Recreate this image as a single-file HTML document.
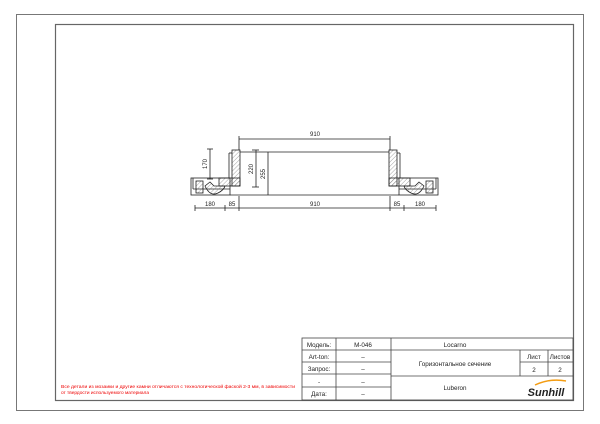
<!DOCTYPE html>
<html><head><meta charset="utf-8"><style>
body{margin:0;background:#fff}
svg{display:block}
text{font-family:"Liberation Sans",sans-serif}
</style></head><body>
<svg width="600" height="424" viewBox="0 0 600 424">
<defs>
<pattern id="h" width="3" height="3" patternUnits="userSpaceOnUse" patternTransform="rotate(45)">
<line x1="0" y1="0" x2="0" y2="3" stroke="#666" stroke-width="0.6"/></pattern>
</defs>
<rect x="16.5" y="14.5" width="567" height="396" fill="none" stroke="#777" stroke-width="1"/>
<rect x="55.5" y="24.5" width="518" height="376" fill="none" stroke="#666" stroke-width="1.2"/>

<g stroke="#222" stroke-width="0.8" fill="none">
<line x1="239" y1="139" x2="390" y2="139"/>
<line x1="239" y1="136" x2="239" y2="150"/><line x1="390" y1="136" x2="390" y2="150"/>
<line x1="240" y1="152" x2="389" y2="152"/>
<line x1="230" y1="195" x2="399" y2="195"/>
<!-- left sash -->
<rect x="232" y="150" width="8" height="36" fill="url(#h)"/>
<line x1="229" y1="153" x2="229" y2="178"/><line x1="229" y1="153" x2="232" y2="153"/>
<rect x="219" y="178" width="21" height="8" fill="url(#h)"/>
<!-- left base -->
<rect x="191" y="178" width="39" height="17"/>
<line x1="193" y1="189" x2="230" y2="189"/>
<line x1="193" y1="178" x2="193" y2="189"/>
<rect x="196" y="181" width="7" height="12" fill="url(#h)"/>
<path d="M205 186 Q210 197 218 193 Q224 190 225 186 L214 186 L210 182 Z" fill="url(#h)"/>
<!-- right sash -->
<rect x="389" y="150" width="8" height="36" fill="url(#h)"/>
<line x1="400" y1="153" x2="400" y2="178"/><line x1="397" y1="153" x2="400" y2="153"/>
<rect x="389" y="178" width="21" height="8" fill="url(#h)"/>
<!-- right base -->
<rect x="399" y="178" width="39" height="17"/>
<line x1="399" y1="189" x2="436" y2="189"/>
<line x1="436" y1="178" x2="436" y2="189"/>
<rect x="426" y="181" width="7" height="12" fill="url(#h)"/>
<path d="M424 186 Q419 197 411 193 Q405 190 404 186 L415 186 L419 182 Z" fill="url(#h)"/>
<!-- vertical dims -->
<line x1="210" y1="149" x2="210" y2="179"/><line x1="207" y1="149" x2="213" y2="149"/><line x1="207" y1="179" x2="213" y2="179"/>
<line x1="256" y1="150" x2="256" y2="187"/><line x1="252" y1="150" x2="259" y2="150"/><line x1="252" y1="187" x2="259" y2="187"/>
<line x1="268" y1="152" x2="268" y2="195"/>
<!-- bottom dims -->
<line x1="195" y1="208" x2="436" y2="208"/>
<line x1="195" y1="205" x2="195" y2="211"/><line x1="225" y1="205" x2="225" y2="211"/>
<line x1="239" y1="196" x2="239" y2="211"/><line x1="390" y1="196" x2="390" y2="211"/>
<line x1="404" y1="205" x2="404" y2="211"/><line x1="436" y1="205" x2="436" y2="211"/>
</g>
<g font-size="6" fill="#222" text-anchor="middle">
<text x="315" y="136">910</text>
<text x="210" y="206">180</text><text x="232" y="206">85</text>
<text x="315" y="206">910</text><text x="397" y="206">85</text><text x="420" y="206">180</text>
<text transform="translate(207,164) rotate(-90)">170</text>
<text transform="translate(253,169) rotate(-90)">220</text>
<text transform="translate(265,174) rotate(-90)">255</text>
</g>

<g stroke="#444" stroke-width="0.8" fill="none">
<rect x="302" y="338" width="271" height="62"/>
<line x1="302" y1="350" x2="573" y2="350"/>
<line x1="302" y1="362" x2="391" y2="362"/>
<line x1="302" y1="374" x2="391" y2="374"/>
<line x1="520" y1="362" x2="573" y2="362"/>
<line x1="391" y1="376" x2="573" y2="376"/>
<line x1="302" y1="387" x2="391" y2="387"/>
<line x1="336" y1="338" x2="336" y2="400"/>
<line x1="391" y1="338" x2="391" y2="400"/>
<line x1="520" y1="350" x2="520" y2="376"/>
<line x1="548" y1="350" x2="548" y2="376"/>
</g>
<g font-size="6.3" fill="#222" text-anchor="middle">
<text x="319" y="347">Модель:</text>
<text x="363" y="347">M-046</text>
<text x="455" y="347">Locarno</text>
<text x="319" y="359">Art-ton:</text><text x="363" y="359">–</text>
<text x="319" y="371">Запрос:</text><text x="363" y="371">–</text>
<text x="319" y="384">-</text><text x="363" y="384">–</text>
<text x="319" y="396">Дата:</text><text x="363" y="396">–</text>
<text x="455" y="366">Горизонтальное сечение</text>
<text x="534" y="359">Лист</text><text x="560" y="359">Листов</text>
<text x="534" y="372">2</text><text x="560" y="372">2</text>
<text x="455" y="390">Luberon</text>
<text x="546" y="396" font-family="Liberation Serif" font-style="italic" font-weight="bold" font-size="11">Sunhill</text>
</g>
<path d="M535 385 Q550 378 566 381" stroke="#f39c12" stroke-width="1.5" fill="none"/>
<g font-size="4.2" fill="#e00">
<text x="61" y="388" textLength="234" lengthAdjust="spacingAndGlyphs">Все детали из мозаики и другие камни отличаются с технологической фаской 2-3 мм, в зависимости</text>
<text x="61" y="394" textLength="88" lengthAdjust="spacingAndGlyphs">от твердости используемого материала</text>
</g>
</svg>
</body></html>
